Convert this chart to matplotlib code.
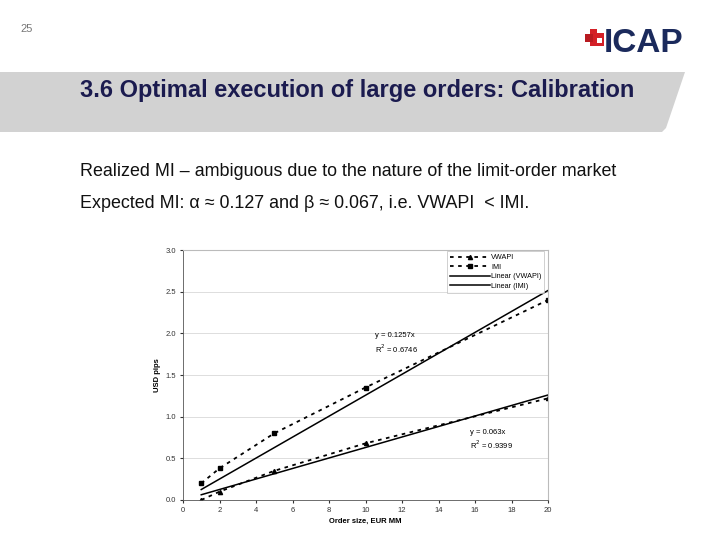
import matplotlib.pyplot as plt
import matplotlib.patches as mpatches
import numpy as np

plt.rcParams['font.family'] = ['Liberation Sans', 'DejaVu Sans']

# data
order_size = [1, 2, 5, 10, 20]
vwapi = [0.0, 0.1, 0.35, 0.68, 1.22]
imi = [0.2, 0.38, 0.8, 1.35, 2.4]
slope_vwapi = 0.063
slope_imi = 0.1257
r2_vwapi = 0.9399
r2_imi = 0.6746

fit_x = np.array([1, 20])

fig = plt.figure(figsize=(7.2, 5.4), dpi=100)

# slide background, pixel coords
bg = fig.add_axes([0, 0, 1, 1])
bg.set_xlim(0, 720)
bg.set_ylim(540, 0)
bg.axis('off')
bg.add_patch(mpatches.Polygon([(0, 72), (685, 72), (666, 128), (662, 132), (0, 132)],
                              closed=True, color='#d2d2d2', lw=0))
bg.text(20, 29, "25", fontsize=8, color='#777777', va='center')
# ICAP logo
bg.add_patch(mpatches.Polygon([(590, 29), (597, 29), (597, 33), (604, 33), (604, 46),
                               (590, 46)], closed=True, color='#d42027', lw=0))
bg.add_patch(mpatches.Rectangle((585, 34), 8, 8, color='#b81a20', lw=0))
bg.add_patch(mpatches.Rectangle((597, 38), 5, 5, color='white', lw=0))
bg.text(604, 44, "ICAP", fontsize=24, fontweight='bold', color='#1b2a5c',
        va='center', ha='left')
bg.text(80, 91, "3.6 Optimal execution of large orders: Calibration",
        fontsize=17, fontweight='bold', color='#1b1b4f', va='center')
bg.text(80, 171, "Realized MI \u2013 ambiguous due to the nature of the limit-order market",
        fontsize=12.9, color='#111111', va='center')
bg.text(80, 204, "Expected MI: \u03b1 \u2248 0.127 and \u03b2 \u2248 0.067, i.e. VWAPI  < IMI.",
        fontsize=12.9, color='#111111', va='center')

ax = fig.add_axes([183/720, 1 - 500/540, 365/720, 250/540])
ax.plot(order_size, vwapi, color='black', ls=(0, (2, 2.5)), lw=1.3,
        marker='^', ms=3, label='VWAPI')
ax.plot(order_size, imi, color='black', ls=(0, (2, 2.5)), lw=1.3,
        marker='s', ms=3, label='IMI')
ax.plot(fit_x, slope_vwapi * fit_x, color='black', lw=1.1, label='Linear (VWAPI)')
ax.plot(fit_x, slope_imi * fit_x, color='black', lw=1.1, label='Linear (IMI)')

ax.text(10.5, 1.88, f"y = {slope_imi}x\nR$^2$ = {r2_imi}", fontsize=5.5,
        va='center', linespacing=1.3)
ax.text(15.7, 0.72, f"y = {slope_vwapi}x\nR$^2$ = {r2_vwapi}", fontsize=5.5,
        va='center', linespacing=1.3)

ax.set_xlim(0, 20)
ax.set_ylim(0, 3.0)
ax.set_xticks(np.arange(0, 21, 2))
ax.set_yticks(np.arange(0, 3.01, 0.5))
ax.set_yticklabels([f"{v:.1f}" for v in np.arange(0, 3.01, 0.5)])
ax.tick_params(labelsize=5.5, length=2, colors='#333333', pad=3)
ax.yaxis.grid(True, color='#d8d8d8', lw=0.6)
ax.set_axisbelow(True)
for s in ['top', 'right']:
    ax.spines[s].set_color('#bbbbbb')
for s in ['left', 'bottom']:
    ax.spines[s].set_color('#555555')
    ax.spines[s].set_linewidth(0.6)
ax.set_xlabel("Order size, EUR MM", fontsize=5.5, fontweight='bold', labelpad=3)
ax.set_ylabel("USD pips", fontsize=5.5, fontweight='bold', labelpad=3)

leg = ax.legend(loc='upper right', fontsize=5.2, frameon=True, fancybox=False,
                edgecolor='#bbbbbb', handlelength=5.5, handletextpad=0.2,
                borderpad=0.4, labelspacing=0.35, bbox_to_anchor=(1.0, 1.01))
leg.get_frame().set_linewidth(0.6)

fig.savefig("out.png", dpi=100)
